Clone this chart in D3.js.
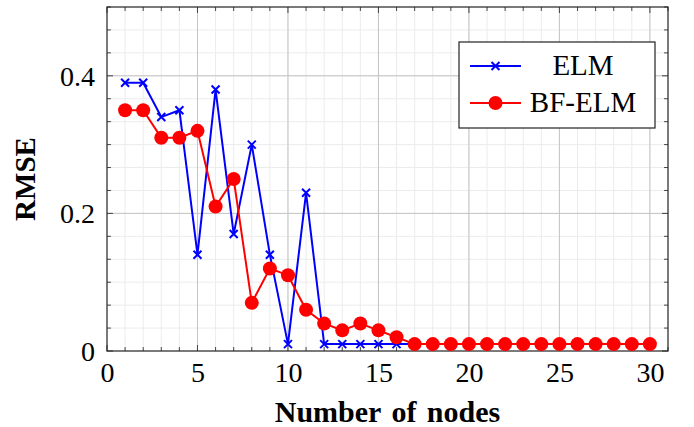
<!DOCTYPE html>
<html lang="en">
<head>
  <meta charset="UTF-8">
  <title>RMSE vs number of nodes</title>
  <style>
    body { margin: 0; background: #fff; }
    svg { display: block; }
    svg text { font-family: "Liberation Serif", "DejaVu Serif", serif; fill: #000; }
  </style>
</head>
<body>
  <div id="chart"></div>
  <script src="https://d3js.org/d3.v7.min.js"></script>
  <script>
    // values
    const nodes = d3.range(1, 31);
    const elm = [0.39, 0.39, 0.34, 0.35, 0.14, 0.38, 0.17, 0.30, 0.14, 0.01,
                 0.23, 0.01, 0.01, 0.01, 0.01, 0.01, 0.01, 0.01, 0.01, 0.01,
                 0.01, 0.01, 0.01, 0.01, 0.01, 0.01, 0.01, 0.01, 0.01, 0.01];
    const bfElm = [0.35, 0.35, 0.31, 0.31, 0.32, 0.21, 0.25, 0.07, 0.12, 0.11,
                   0.06, 0.04, 0.03, 0.04, 0.03, 0.02, 0.01, 0.01, 0.01, 0.01,
                   0.01, 0.01, 0.01, 0.01, 0.01, 0.01, 0.01, 0.01, 0.01, 0.01];
    const xTicks = [0, 5, 10, 15, 20, 25, 30];
    const yTicks = [0, 0.2, 0.4];

    const width = 694, height = 427;
    const margin = { top: 7, right: 26, bottom: 76, left: 107 };

    const svg = d3.select("#chart").append("svg")
      .attr("width", width)
      .attr("height", height);

    const x = d3.scaleLinear().domain([0, 31]).range([margin.left, width - margin.right]);
    const y = d3.scaleLinear().domain([0, 0.5]).range([height - margin.bottom, margin.top]);

    const x0 = x.range()[0], x1 = x.range()[1];
    const y0 = y.range()[0], y1 = y.range()[1];

    // grid: minor then major
    const xMinor = d3.range(1, 31);
    const yMinor = d3.range(1, 15).map(i => i * 0.5 / 15);

    const grid = svg.append("g");
    grid.selectAll(".xm").data(xMinor).enter().append("line")
      .attr("x1", d => x(d)).attr("x2", d => x(d))
      .attr("y1", y0).attr("y2", y1)
      .attr("stroke", "#ececec").attr("stroke-width", 1);
    grid.selectAll(".ym").data(yMinor).enter().append("line")
      .attr("x1", x0).attr("x2", x1)
      .attr("y1", d => y(d)).attr("y2", d => y(d))
      .attr("stroke", "#ececec").attr("stroke-width", 1);
    grid.selectAll(".xM").data(xTicks.slice(1)).enter().append("line")
      .attr("x1", d => x(d)).attr("x2", d => x(d))
      .attr("y1", y0).attr("y2", y1)
      .attr("stroke", "#c4c4c4").attr("stroke-width", 1);
    grid.selectAll(".yM").data(yTicks.slice(1)).enter().append("line")
      .attr("x1", x0).attr("x2", x1)
      .attr("y1", d => y(d)).attr("y2", d => y(d))
      .attr("stroke", "#c4c4c4").attr("stroke-width", 1);

    // inward ticks on all four sides
    const ticks = svg.append("g").attr("stroke", "#333").attr("stroke-width", 0.9);
    d3.range(0, 32).forEach(v => {
      const len = v % 5 === 0 ? 6 : 4;
      ticks.append("line").attr("x1", x(v)).attr("x2", x(v)).attr("y1", y0).attr("y2", y0 - len);
      ticks.append("line").attr("x1", x(v)).attr("x2", x(v)).attr("y1", y1).attr("y2", y1 + len);
    });
    d3.range(0, 16).forEach(i => {
      const v = i * 0.5 / 15;
      const len = i % 6 === 0 ? 6 : 4;
      ticks.append("line").attr("x1", x0).attr("x2", x0 + len).attr("y1", y(v)).attr("y2", y(v));
      ticks.append("line").attr("x1", x1).attr("x2", x1 - len).attr("y1", y(v)).attr("y2", y(v));
    });

    // axis tick labels
    const xAxis = d3.axisBottom(x).tickValues(xTicks).tickSize(0).tickPadding(12);
    svg.append("g")
      .attr("transform", `translate(0, ${y0})`)
      .call(xAxis)
      .call(g => g.select(".domain").remove())
      .selectAll("text")
      .style("font-size", "28px")
      .attr("y", 31).attr("dy", 0);

    const yAxis = d3.axisLeft(y).tickValues(yTicks).tickSize(0).tickPadding(12)
      .tickFormat(d => d === 0 ? "0" : d3.format(".1f")(d));
    svg.append("g")
      .attr("transform", `translate(${x0}, 0)`)
      .call(yAxis)
      .call(g => g.select(".domain").remove())
      .selectAll("text")
      .style("font-size", "28px")
      .attr("dy", "0.34em");

    // frame
    svg.append("rect")
      .attr("x", x0).attr("y", y1)
      .attr("width", x1 - x0).attr("height", y0 - y1)
      .attr("fill", "none").attr("stroke", "#222").attr("stroke-width", 1.2);

    // axis titles
    svg.append("text")
      .attr("x", (x0 + x1) / 2).attr("y", 422)
      .attr("text-anchor", "middle")
      .style("font-size", "30px").style("font-weight", "bold")
      .style("word-spacing", "3px")
      .text("Number of nodes");
    svg.append("text")
      .attr("transform", `translate(35, ${(y0 + y1) / 2}) rotate(-90)`)
      .attr("text-anchor", "middle")
      .style("font-size", "29px").style("font-weight", "bold")
      .text("RMSE");

    const line = d3.line().x(d => x(d[0])).y(d => y(d[1]));
    const elmPts = nodes.map((n, i) => [n, elm[i]]);
    const bfPts = nodes.map((n, i) => [n, bfElm[i]]);

    const plot = svg.append("g");

    function crossPath(cx, cy, r) {
      return `M${cx - r},${cy - r}L${cx + r},${cy + r}M${cx - r},${cy + r}L${cx + r},${cy - r}`;
    }

    // ELM
    plot.append("path").datum(elmPts)
      .attr("d", line).attr("fill", "none")
      .attr("stroke", "#0000ff").attr("stroke-width", 2);
    plot.selectAll(".elm").data(elmPts).enter().append("path")
      .attr("d", d => crossPath(x(d[0]), y(d[1]), 4))
      .attr("stroke", "#0000ff").attr("stroke-width", 2);

    // BF-ELM
    plot.append("path").datum(bfPts)
      .attr("d", line).attr("fill", "none")
      .attr("stroke", "#ff0000").attr("stroke-width", 2);
    plot.selectAll(".bf").data(bfPts).enter().append("circle")
      .attr("cx", d => x(d[0])).attr("cy", d => y(d[1]))
      .attr("r", 7).attr("fill", "#ff0000");

    // legend
    const lg = svg.append("g");
    lg.append("rect")
      .attr("x", 459).attr("y", 42).attr("width", 196).attr("height", 86)
      .attr("fill", "#fff").attr("stroke", "#222").attr("stroke-width", 1.2);
    lg.append("line").attr("x1", 470).attr("x2", 521).attr("y1", 66).attr("y2", 66)
      .attr("stroke", "#0000ff").attr("stroke-width", 2);
    lg.append("path").attr("d", crossPath(495.5, 66, 4))
      .attr("stroke", "#0000ff").attr("stroke-width", 2);
    lg.append("text").attr("x", 583).attr("y", 75)
      .attr("text-anchor", "middle").style("font-size", "29px").text("ELM");
    lg.append("line").attr("x1", 470).attr("x2", 521).attr("y1", 103).attr("y2", 103)
      .attr("stroke", "#ff0000").attr("stroke-width", 2);
    lg.append("circle").attr("cx", 495.5).attr("cy", 103).attr("r", 7).attr("fill", "#ff0000");
    lg.append("text").attr("x", 583).attr("y", 112)
      .attr("text-anchor", "middle").style("font-size", "29px").text("BF-ELM");
  </script>
</body>
</html>
